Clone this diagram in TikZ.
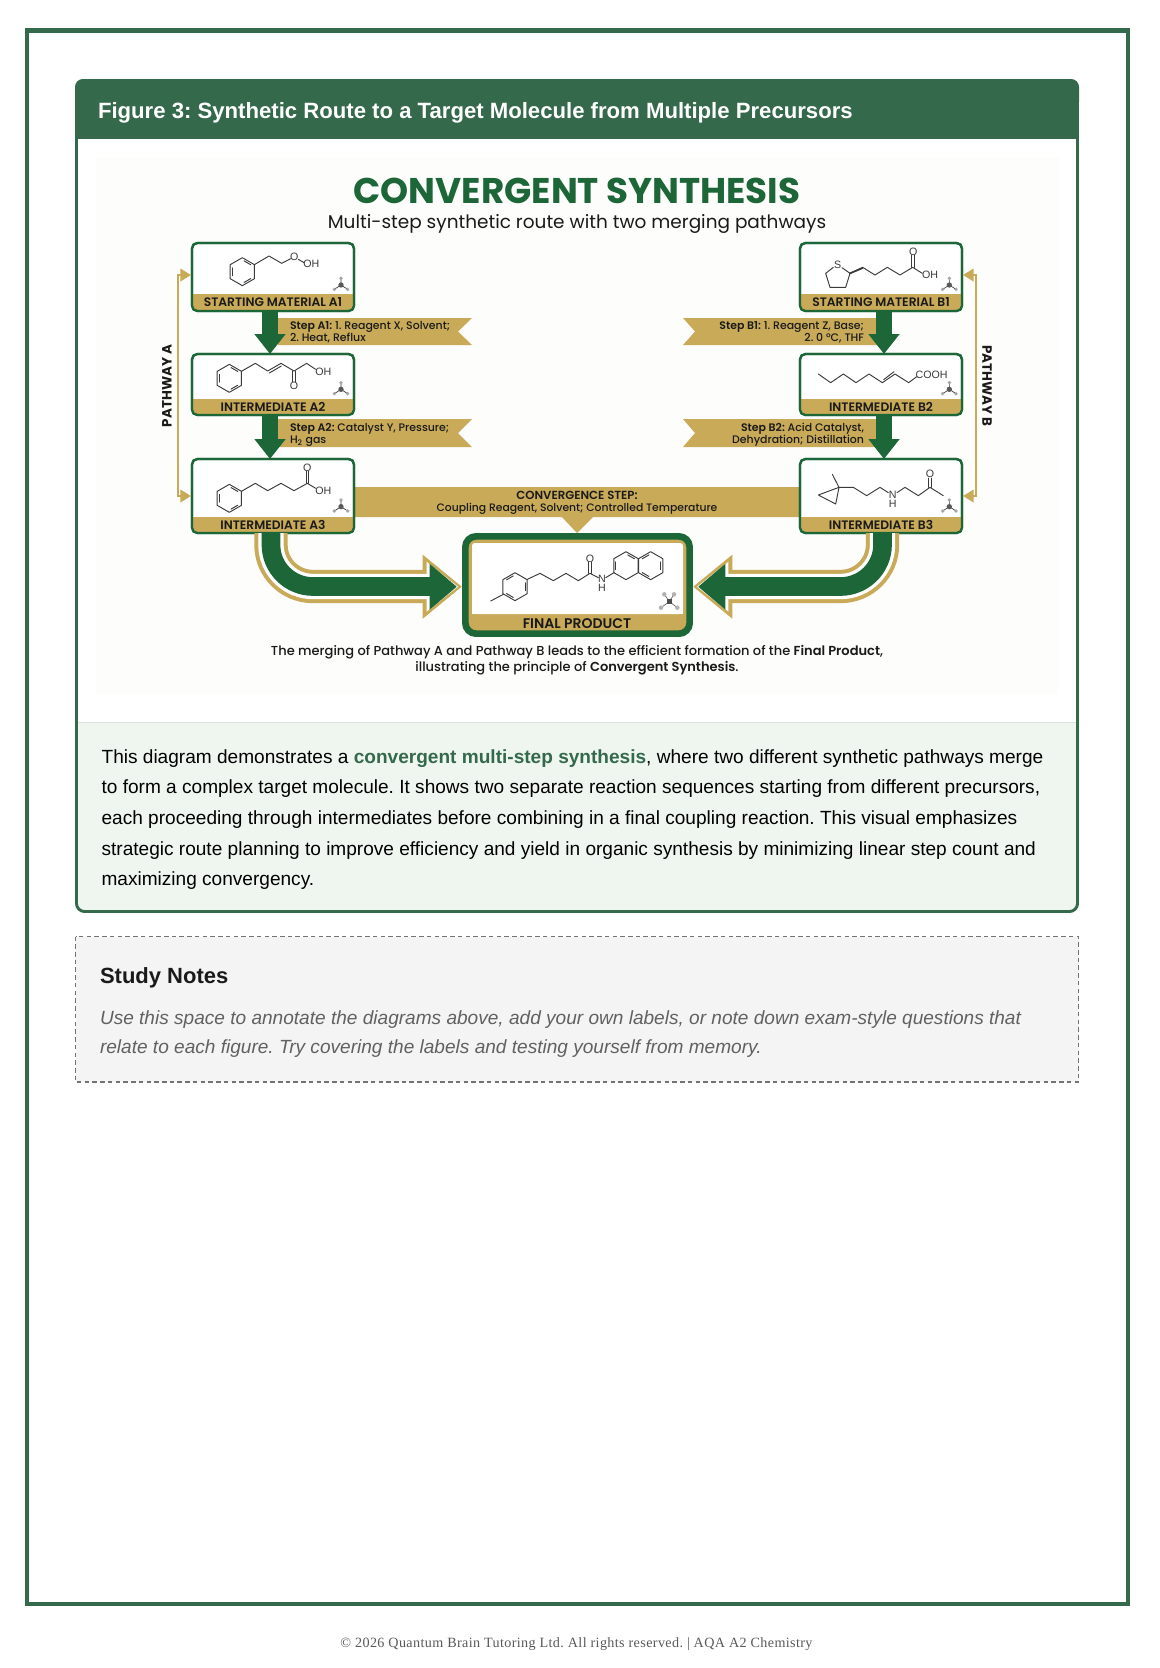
\documentclass[tikz,border=0pt]{standalone}
\usepackage{fontspec}
\setmainfont{Liberation Sans}
\newfontfamily\pop{Poppins}
\newfontfamily\popm[BoldFont={Poppins SemiBold}]{Poppins Medium}
\newfontfamily\ser[LetterSpace=2.7]{Liberation Serif}
\usetikzlibrary{arrows.meta,calc}
\definecolor{frameg}{HTML}{34694C}
\definecolor{dgreen}{HTML}{1D6638}
\definecolor{gold}{HTML}{C8AA58}
\definecolor{descbg}{HTML}{EFF6F0}
\definecolor{notebg}{HTML}{F4F4F4}
\definecolor{imgbg}{HTML}{FDFDFC}
\definecolor{ink}{HTML}{1A1A1A}
\definecolor{bond}{HTML}{3A3A3A}
\newcommand{\fs}[1]{\fontsize{#1}{#1}\selectfont}
\tikzset{
 txt/.style={inner sep=0pt,outer sep=0pt,anchor=base west,text=black},
 ptxt/.style={inner sep=0pt,outer sep=0pt,text=ink,font=\pop},
 molbox/.style={draw=dgreen,line width=1.7pt,rounded corners=4pt,fill=white,inner sep=0pt,outer sep=0pt},
 molline/.style={draw=bond,line width=.7pt,line join=round,line cap=round},
 atomlab/.style={inner sep=0pt,outer sep=0pt,text=bond,font=\fs{8}},
 steparrow/.style={draw=dgreen,line width=11.5pt,-{Triangle[width=22.5pt,length=15pt]}},
 pathline/.style={draw=gold,line width=1.5pt,{Triangle[width=9.5pt,length=8pt]}-{Triangle[width=9.5pt,length=8pt]}},
 ribbon/.style={fill=gold},
}
% name, x1, y1, x2, y2, bandtop, label
\newcommand{\molnode}[7]{%
 \node[molbox,minimum width={(#4-#2)*.75pt},minimum height={(#5-#3)*.75pt}] (#1) at ({(#2+#4)/2},{(#3+#5)/2}) {};
 \fill[gold] (#2,#6) -- (#4,#6) [rounded corners=4pt] -- (#4,#5) -- (#2,#5) [sharp corners] -- cycle;
 \draw[draw=dgreen,line width=1.7pt,rounded corners=4pt] (#1.south west) rectangle (#1.north east);
 \node[ptxt,font=\popm\bfseries\fs{9.2}] (#1lab) at ({(#2+#4)/2},{(#6+#5)/2}) {#7};
}
\newcommand{\benz}[4]{% cx cy r list of start angles
 \draw[molline] (#1+#3*0.866,#2+#3*.5) -- (#1,#2+#3) -- (#1-#3*.866,#2+#3*.5) -- (#1-#3*.866,#2-#3*.5) -- (#1,#2-#3) -- (#1+#3*.866,#2-#3*.5) -- cycle;
 \foreach \a in {#4} {\draw[molline] ({#1+#3*.78*cos(\a+9)},{#2+#3*.78*sin(\a+9)}) -- ({#1+#3*.78*cos(\a+51)},{#2+#3*.78*sin(\a+51)});}
}
\newcommand{\molicon}[2]{%
 \draw[bond,line width=.5pt] (#1,#2) -- (#1,#2-20) (#1,#2) -- (#1-20,#2+13) (#1,#2) -- (#1+20,#2+13);
 \fill[gray!70] (#1,#2-20) circle (1.4pt) (#1-20,#2+13) circle (1.4pt) (#1+20,#2+13) circle (1.4pt);
 \fill[black!65] (#1,#2) circle (2pt);
}
\begin{document}
\frenchspacing
\begin{tikzpicture}[x=.75pt,y=-.75pt]
\useasboundingbox (0,0) rectangle (1160,1668);
\fill[white] (0,0) rectangle (1160,1668);
% outer frame
\draw[frameg,line width=3.2pt] (26.7,30.6) rectangle (1128,1604);
% card
\fill[white,rounded corners=6pt] (75,79) rectangle (1079,913);
\fill[imgbg] (96,157) rectangle (1059,695);
\fill[descbg] (76,722) -- (1078,722) [rounded corners=6pt] -- (1078,912) -- (76,912) [sharp corners] -- cycle;
\draw[black!12,line width=.75pt] (76,722) -- (1078,722);
\fill[frameg,rounded corners=6pt] (75,79) -- (1079,79) -- (1079,110) -- (75,110) -- cycle;
\fill[frameg] (75,100) rectangle (1079,139);
\draw[frameg,line width=2.2pt,rounded corners=6pt] (76.5,80.5) rectangle (1077.5,911.5);
\node[txt,text=white,font=\bfseries\fs{16.6}] (hdr) at (98,118) {Figure 3: Synthetic Route to a Target Molecule from Multiple Precursors};
% title
\node[ptxt,font=\pop\bfseries\fs{26.8},text=dgreen] (ttl) at (577,191) {CONVERGENT SYNTHESIS};
\node[ptxt,font=\pop\fs{13.85}] (sub) at (577,223.5) {Multi-step synthetic route with two merging pathways};
% ribbons
\fill[ribbon] (278,318) -- (472,318) -- (458,331.5) -- (472,345) -- (278,345) -- cycle;
\fill[ribbon] (278,419) -- (472,419) -- (458,433) -- (472,447) -- (278,447) -- cycle;
\fill[ribbon] (877,318) -- (683,318) -- (695,331.5) -- (683,345) -- (877,345) -- cycle;
\fill[ribbon] (877,419) -- (683,419) -- (695,433) -- (683,447) -- (877,447) -- cycle;
\fill[ribbon] (350,487) -- (804,487) -- (804,517) -- (593,517) -- (577,533) -- (562,517) -- (350,517) -- cycle;
% boxes
\molnode{A1}{192}{243}{354}{311}{294}{STARTING MATERIAL A1}
\molnode{A2}{192}{354}{354}{415}{399}{INTERMEDIATE A2}
\molnode{A3}{192}{459}{354}{533}{517}{INTERMEDIATE A3}
\molnode{B1}{800}{243}{962}{311}{294}{STARTING MATERIAL B1}
\molnode{B2}{800}{354}{962}{415}{399}{INTERMEDIATE B2}
\molnode{B3}{800}{459}{962}{533}{517}{INTERMEDIATE B3}
% step arrows
\draw[steparrow] ([xshift=-2.25pt]A1.south) -- ([xshift=-2.25pt]A2.north);
\draw[steparrow] ([xshift=-2.25pt]A2.south) -- ([xshift=-2.25pt]A3.north);
\draw[steparrow] ([xshift=2.25pt]B1.south) -- ([xshift=2.25pt]B2.north);
\draw[steparrow] ([xshift=2.25pt]B2.south) -- ([xshift=2.25pt]B3.north);
% step labels
\node[ptxt,anchor=base west,font=\popm\fs{8.2}] (s1a) at (290,329.5) {\textbf{Step A1:} 1. Reagent X, Solvent;};
\node[ptxt,anchor=base west,font=\popm\fs{8.2}] (s1b) at (290,341.5) {2. Heat, Reflux};
\node[ptxt,anchor=base west,font=\popm\fs{8.2}] (s2a) at (290,431) {\textbf{Step A2:} Catalyst Y, Pressure;};
\node[ptxt,anchor=base west,font=\popm\fs{8.2}] (s2b) at (290,443) {H\textsubscript{2} gas};
\node[ptxt,anchor=base east,font=\popm\fs{8.2}] (t1a) at (864,329.5) {\textbf{Step B1:} 1. Reagent Z, Base;};
\node[ptxt,anchor=base east,font=\popm\fs{8.2}] (t1b) at (864,341.5) {2. 0 °C, THF};
\node[ptxt,anchor=base east,font=\popm\fs{8.2}] (t2a) at (864,431) {\textbf{Step B2:} Acid Catalyst,};
\node[ptxt,anchor=base east,font=\popm\fs{8.2}] (t2b) at (864,443) {Dehydration; Distillation};
\node[ptxt,font=\popm\bfseries\fs{8.8}] (c1) at (577,495.5) {CONVERGENCE STEP:};
\node[ptxt,font=\popm\fs{8.1}] (c2) at (577,508.5) {Coupling Reagent, Solvent; Controlled Temperature};
% pathway connectors
\draw[pathline] ($(A1.west)+(-1,-2)$) -- (178,275) -- (178,496) -- ($(A3.west)+(-1,0)$);
\draw[pathline] ($(B1.east)+(1,-2)$) -- (976,275) -- (976,496) -- ($(B3.east)+(1,0)$);
\node[ptxt,font=\pop\bfseries\fs{10.1},rotate=90] (pa) at (167,386) {PATHWAY A};
\node[ptxt,font=\pop\bfseries\fs{10.1},rotate=-90] (pb) at (987,386) {PATHWAY B};
% final product
\node[draw=dgreen,line width=5pt,rounded corners=8pt,fill=gold,minimum width={224.3*.75pt},minimum height={97.3*.75pt},inner sep=0pt] (F) at (577.5,585) {};
\fill[white,rounded corners=2pt] (472,543) rectangle (683,614);
\fill[white] (472,600) rectangle (683,614);
\node[ptxt,font=\popm\bfseries\fs{10.5}] (Flab) at (577,623.5) {FINAL PRODUCT};
% merging arrows
\foreach \lay/\wid/\gx/\gy/\gt in {gold/25pt/39.3/31/0.3,white/19pt/35.5/24/4,dgreen/14pt/32.5/22/5.3}{
 \draw[\lay,line width=\wid] ($(A3.south)+(-2,0)$) -- ++(0,12) .. controls +(0,23) and +(-23,0) .. (313,586.5) -- ($(F.west)+(-30,1.5)$);
 \draw[\lay,line width=\wid] ($(B3.south)+(1.5,0)$) -- ++(0,12) .. controls +(0,23) and +(23,0) .. (840.5,586.5) -- ($(F.east)+(30,1.5)$);
 \fill[\lay] ($(F.west)+(-\gx,1.7-\gy-1)$) -- ($(F.west)+(-\gt,1.7)$) -- ($(F.west)+(-\gx,1.7+\gy+1)$) -- cycle;
 \fill[\lay] ($(F.east)+(\gx,1.7-\gy-1)$) -- ($(F.east)+(\gt,1.7)$) -- ($(F.east)+(\gx,1.7+\gy+1)$) -- cycle;
}
% caption
\node[ptxt,font=\popm\fs{9.76}] (cap1) at (577,652.5) {The merging of Pathway A and Pathway B leads to the efficient formation of the \textbf{Final Product},};
\node[ptxt,font=\popm\fs{9.76}] (cap2) at (577,668.5) {illustrating the principle of \textbf{Convergent Synthesis}.};
% left molecules (crop units)
\begin{scope}[shift={(150,230)},x=.25pt,y=-.25pt]
 \benz{277}{125}{42}{30,150,270}
 \draw[molline] (313,104) -- (357,78) -- (395,100) -- (422,86);
 \draw[molline] (445,88) -- (462,98);
 \node[atomlab] (a1o) at (433,80) {O};
 \node[atomlab] (a1oh) at (484,100) {OH};
 \molicon{573}{165}
 \benz{238}{445}{42}{30,150,270}
 \draw[molline] (274,424) -- (316,400) -- (353,423) -- (393,400) -- (432,423) -- (470,400) -- (497,418);
 \draw[molline] (358,429) -- (394,408);
 \draw[molline] (428,423) -- (428,455) (436,423) -- (436,455);
 \node[atomlab] (a2o) at (432,467) {O};
 \node[atomlab] (a2oh) at (520,425) {OH};
 \molicon{573}{478}
 \benz{238}{805}{42}{30,150,270}
 \draw[molline] (274,784) -- (316,760) -- (353,782) -- (393,760) -- (432,782) -- (472,760) -- (497,775);
 \draw[molline] (468,760) -- (468,724) (476,760) -- (476,724);
 \node[atomlab] (a3o) at (472,712) {O};
 \node[atomlab] (a3oh) at (520,782) {OH};
 \molicon{573}{830}
\end{scope}
% right molecules
\begin{scope}[shift={(670,230)},x=.25pt,y=-.25pt]
 \draw[molline] (490,112) -- (467,130) -- (480,172) -- (527,172) -- (540,130) -- (516,113);
 \draw[molline] (540,130) -- (578,112) -- (615,135) -- (652,112) -- (690,135) -- (728,112) -- (757,130);
 \draw[molline,line width=1.3pt] (540,130) -- (578,114);
 \draw[molline] (724,112) -- (724,76) (732,112) -- (732,76);
 \node[atomlab] (b1s) at (503,105) {S};
 \node[atomlab] (b1o) at (730,65) {O};
 \node[atomlab] (b1oh) at (780,135) {OH};
 \molicon{838}{165}
 \draw[molline] (445,432) -- (482,458) -- (520,432) -- (558,458) -- (597,432) -- (637,458) -- (675,432) -- (716,458) -- (740,440);
 \draw[molline] (641,449) -- (672,425);
 \node[atomlab] (b2c) at (785,435) {COOH};
 \molicon{838}{478}
 \draw[molline] (487,733) -- (507,772) -- (445,795) -- (497,822) -- (507,772) -- (550,772) -- (590,797) -- (630,772) -- (655,788);
 \draw[molline] (681,788) -- (705,772) -- (745,797) -- (780,772) -- (820,797);
 \draw[molline] (776,772) -- (776,744) (784,772) -- (784,744);
 \node[atomlab] (b3n) at (668,795) {N};
 \node[atomlab] (b3h) at (668,820) {H};
 \node[atomlab] (b3o) at (780,730) {O};
 \molicon{838}{830}
\end{scope}
% final molecule
\begin{scope}[shift={(470,535)},x=.25pt,y=-.25pt]
 \benz{135}{155}{42}{330,90,210}
 \draw[molline] (100,178) -- (62,198);
 \draw[molline] (172,133) -- (210,115) -- (250,137) -- (288,115) -- (325,137) -- (360,115) -- (385,128);
 \draw[molline] (356,115) -- (356,82) (364,115) -- (364,82);
 \draw[molline] (407,128) -- (432,113);
 \node[atomlab] (fo) at (360,70) {O};
 \node[atomlab] (fn) at (396,130) {N};
 \node[atomlab] (fh) at (396,158) {H};
 \benz{468}{92}{42}{150,270}
 \benz{542}{92}{42}{330,90,210}
 \draw[bond!70,line width=.6pt] (598,200) -- (583,178) (598,200) -- (612,178) (598,200) -- (573,218) (598,200) -- (622,218);
 \fill[gray!60] (583,178) circle (1.7pt) (612,178) circle (1.7pt) (573,218) circle (1.7pt) (622,218) circle (1.7pt);
 \fill[black!70] (590,192) rectangle (606,208);
\end{scope}
% description
\node[txt,font=\fs{14.3}] (d1) at (101.6,763) {This diagram demonstrates a \textcolor{frameg}{\textbf{convergent multi-step synthesis}}, where two different synthetic pathways merge};
\node[txt,font=\fs{14.3}] (d2) at (101.6,793.6) {to form a complex target molecule. It shows two separate reaction sequences starting from different precursors,};
\node[txt,font=\fs{14.3}] (d3) at (101.6,824.3) {each proceeding through intermediates before combining in a final coupling reaction. This visual emphasizes};
\node[txt,font=\fs{14.3}] (d4) at (101.6,855) {strategic route planning to improve efficiency and yield in organic synthesis by minimizing linear step count and};
\node[txt,font=\fs{14.3}] (d5) at (101.6,885.7) {maximizing convergency.};
% notes
\fill[notebg] (75.5,936.5) rectangle (1078.5,1082);
\draw[black!55,line width=.9pt,dash pattern=on 3.4pt off 2.4pt] (75.5,936.5) rectangle (1078.5,1082);
\node[txt,text=ink,font=\bfseries\fs{16.5}] (nh) at (100,983) {Study Notes};
\node[txt,text=black!62,font=\itshape\fs{14.3}] (n1) at (100,1024) {Use this space to annotate the diagrams above, add your own labels, or note down exam-style questions that};
\node[txt,text=black!62,font=\itshape\fs{14.3}] (n2) at (100,1053.5) {relate to each figure. Try covering the labels and testing yourself from memory.};
% footer
\node[txt,anchor=base,text=black!65,font=\ser\fs{10.6}] (foot) at (576.5,1647) {© 2026 Quantum Brain Tutoring Ltd. All rights reserved. | AQA A2 Chemistry};
\end{tikzpicture}
\end{document}
